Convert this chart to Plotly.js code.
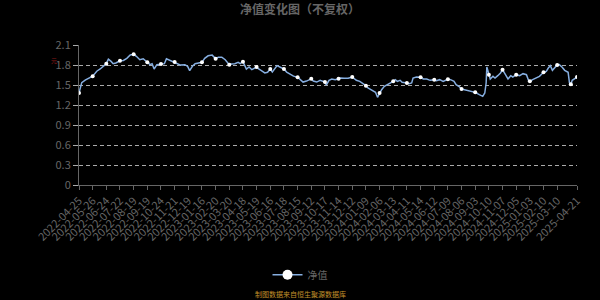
<!DOCTYPE html>
<html>
<head>
<meta charset="utf-8">
<script src="https://cdn.plot.ly/plotly-3.0.1.min.js"></script>
<style>
html,body{margin:0;padding:0;background:#000;}
#chart{width:600px;height:300px;}
</style>
</head>
<body>
<div id="chart"></div>
<script>
// trading-day index of each sampled point
const idx = [0,4,9,20,26,31,40,43,47,50,54,60,65,70,75,80,84,89,94,100,104,107,110,114,120,125,128,133,140,143,148,155,159,162,166,170,175,180,
184,189,195,200,204,209,214,220,223,228,233,236,240,243,245,249,253,260,263,267,272,276,280,283,287,290,294,300,304,309,314,320,324,328,333,340,343,348,353,356,360,
362,366,370,375,380,383,388,394,400,403,406,411,415,420,423,428,432,434,437,440,443,447,452,455,460,463,466,470,473,480,483,487,489,494,500,504,509,514,520,523,528,533,540,544,
549,552,556,560,567,572,580,586,591,594,596,597,600,602,606,609,613,617,620,623,628,632,635,640,645,650,655,658,660,664,669,674,680,684,687,690,693,696,700,703,707,711,714,716,718,720,722,725,729];
// unit net value (元)
const nav = [1.38,1.535,1.574,1.633,1.707,1.74,1.82,1.888,1.854,1.82,1.83,1.864,1.869,1.90,1.95,1.962,1.93,1.88,1.894,1.84,1.805,1.82,1.74,1.805,1.815,1.82,1.894,1.869,1.844,1.83,1.80,1.805,1.78,1.716,1.78,1.82,1.83,1.84,
1.90,1.938,1.948,1.894,1.918,1.918,1.879,1.805,1.815,1.82,1.84,1.82,1.85,1.77,1.74,1.77,1.73,1.77,1.74,1.716,1.682,1.69,1.74,1.694,1.756,1.79,1.77,1.74,1.694,1.667,1.633,1.618,1.574,1.544,1.559,1.593,1.559,1.544,1.569,1.56,1.545,
1.50,1.57,1.59,1.58,1.595,1.605,1.60,1.60,1.62,1.59,1.57,1.555,1.53,1.49,1.455,1.43,1.405,1.39,1.315,1.38,1.43,1.48,1.505,1.53,1.555,1.58,1.555,1.57,1.54,1.53,1.52,1.53,1.605,1.62,1.615,1.59,1.59,1.57,1.58,1.565,1.58,1.555,1.585,1.58,
1.555,1.505,1.48,1.44,1.42,1.405,1.39,1.355,1.33,1.38,1.53,1.77,1.655,1.59,1.63,1.605,1.64,1.68,1.73,1.67,1.59,1.64,1.62,1.655,1.64,1.67,1.655,1.57,1.555,1.58,1.605,1.63,1.69,1.705,1.755,1.79,1.72,1.755,1.80,1.805,1.77,1.72,1.705,1.69,1.53,1.51,1.57,1.59,1.62];
// x-axis tick positions (trading-day index) and labels
const tickIdx = [0,20,40,60,80,100,120,140,160,180,200,220,240,260,280,300,320,340,360,380,400,420,440,460,480,500,520,540,560,580,600,620,640,660,680,700,729];
const tickLabels = ["2022-04-25","2022-05-26","2022-06-24","2022-07-22","2022-08-19","2022-09-19","2022-10-24","2022-11-21","2022-12-19","2023-01-16","2023-02-20","2023-03-20","2023-04-18","2023-05-19","2023-06-16","2023-07-18","2023-08-15","2023-09-12","2023-10-17","2023-11-14","2023-12-12","2024-01-09","2024-02-06","2024-03-13","2024-04-11","2024-05-14","2024-06-12","2024-07-09","2024-08-06","2024-09-03","2024-10-10","2024-11-07","2024-12-05","2025-01-03","2025-02-10","2025-03-10","2025-04-21"];
const seriesName = "净值";

const lastIdx = idx[idx.length-1];
const mx = [], my = [];
idx.forEach((v,i)=>{ if (v % 20 === 0 || v === lastIdx) { mx.push(v); my.push(nav[i]); } });

const lineColor = '#86aee0';
const traces = [
  {x: idx, y: nav, mode: 'lines', line: {color: lineColor, width: 1.5}, showlegend: false, hoverinfo: 'skip'},
  {x: mx, y: my, mode: 'markers', marker: {color: '#fff', size: 4}, showlegend: false, hoverinfo: 'skip'},
  {x: [null], y: [null], mode: 'lines+markers', name: seriesName,
   line: {color: lineColor, width: 1.5}, marker: {color: '#fff', size: 10}}
];

const layout = {
  width: 600, height: 300,
  paper_bgcolor: '#000', plot_bgcolor: '#000',
  font: {family: '"Noto Sans CJK SC", "Noto Sans", sans-serif', color: '#666'},
  margin: {l: 79, r: 23, t: 45, b: 114},
  title: {text: '<b>净值变化图（不复权）</b>', font: {size: 12, color: '#666'}, x: 0.5, xanchor: 'center', y: 0.967, yanchor: 'middle'},
  xaxis: {
    range: [0, lastIdx], tickmode: 'array', tickvals: tickIdx, ticktext: tickLabels,
    tickangle: -45, tickfont: {size: 11, color: '#666'},
    showgrid: false, zeroline: false, showline: true, linecolor: '#666', linewidth: 1,
    ticks: 'outside', ticklen: 4, tickcolor: '#666'
  },
  yaxis: {
    range: [0, 2.1], tick0: 0, dtick: 0.3, tickfont: {size: 11, color: '#666'},
    showgrid: true, gridcolor: '#aaa', griddash: '4px,3px', gridwidth: 1,
    zeroline: false, showline: true, linecolor: '#666', linewidth: 1,
    ticks: 'outside', ticklen: 5, tickcolor: '#aaa'
  },
  showlegend: true,
  legend: {orientation: 'h', x: 0.4438, xanchor: 'center', y: -0.63, yanchor: 'middle',
           font: {size: 10, color: '#666'}, bgcolor: 'rgba(0,0,0,0)'},
  annotations: [
    {text: '元', xref: 'paper', yref: 'paper', x: -0.05, y: 0.89, xanchor: 'center', yanchor: 'middle', showarrow: false,
     font: {size: 6, color: '#8b1a1a'}},
    {text: '制图数据来自恒生聚源数据库', xref: 'paper', yref: 'paper', x: 0.4438, y: -0.78,
     xanchor: 'center', yanchor: 'middle', showarrow: false, font: {size: 7, color: '#c0902a'}}
  ]
};

Plotly.newPlot('chart', traces, layout, {staticPlot: true, displayModeBar: false});
</script>
</body>
</html>
